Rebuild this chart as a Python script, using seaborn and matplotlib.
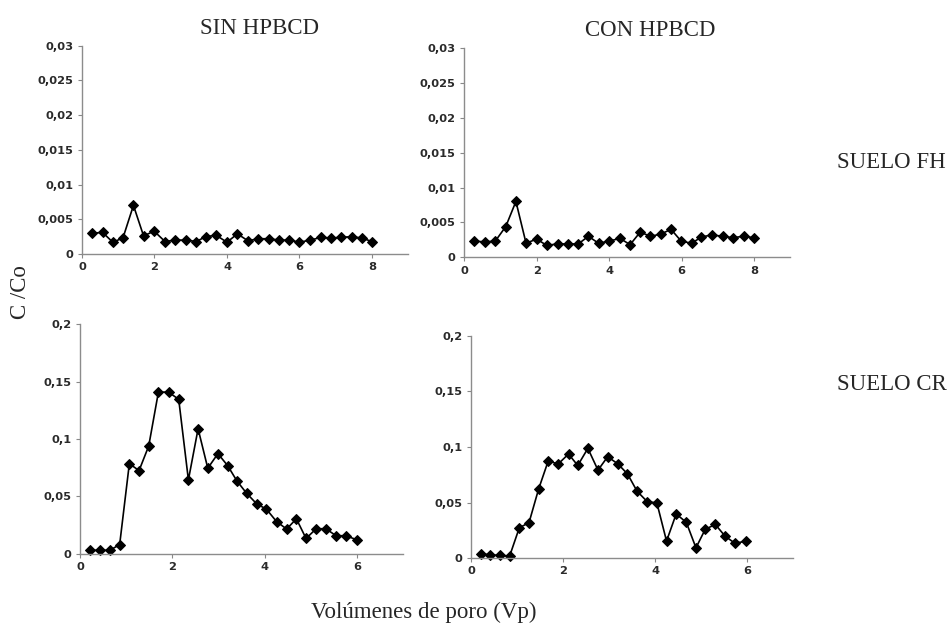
"""
Breakthrough curves C/Co vs pore volumes, FH and CR soils, with and without HPBCD
"""

import matplotlib
matplotlib.use("Agg")
import matplotlib.pyplot as plt
import seaborn as sns
import pandas as pd
from matplotlib.ticker import FuncFormatter

sns.set_theme(style="ticks")

# SUELO FH, SIN HPBCD
x_fh_sin = [0.27, 0.57, 0.85, 1.13, 1.42, 1.70, 1.99, 2.29, 2.58, 2.87, 3.15, 3.42, 3.70, 4.00,
            4.29, 4.58, 4.87, 5.15, 5.44, 5.72, 6.00, 6.30, 6.60, 6.87, 7.16, 7.44, 7.72, 8.00]
y_fh_sin = [0.0030, 0.0031, 0.0017, 0.0023, 0.0070, 0.0026, 0.0033, 0.0018, 0.0020, 0.0020,
            0.0018, 0.0025, 0.0027, 0.0017, 0.0029, 0.0019, 0.0022, 0.0022, 0.0020, 0.0020,
            0.0017, 0.0020, 0.0024, 0.0023, 0.0024, 0.0025, 0.0023, 0.0018]

# SUELO FH, CON HPBCD
x_fh_con = [0.28, 0.57, 0.86, 1.15, 1.43, 1.71, 2.00, 2.28, 2.58, 2.86, 3.15, 3.43, 3.71, 4.00,
            4.30, 4.58, 4.86, 5.14, 5.42, 5.71, 5.99, 6.28, 6.55, 6.84, 7.13, 7.42, 7.71, 8.00]
y_fh_con = [0.0023, 0.0022, 0.0023, 0.0044, 0.0080, 0.0020, 0.0026, 0.0017, 0.0019, 0.0019,
            0.0019, 0.0030, 0.0020, 0.0023, 0.0027, 0.0018, 0.0036, 0.0030, 0.0033, 0.0040,
            0.0023, 0.0020, 0.0029, 0.0032, 0.0030, 0.0028, 0.0030, 0.0028]

# SUELO CR, SIN HPBCD
x_cr_sin = [0.22, 0.43, 0.65, 0.86, 1.07, 1.28, 1.49, 1.70, 1.92, 2.14, 2.35, 2.56, 2.77, 2.99,
            3.20, 3.40, 3.61, 3.83, 4.04, 4.26, 4.48, 4.69, 4.90, 5.12, 5.33, 5.55, 5.76, 6.00]
y_cr_sin = [0.003, 0.003, 0.003, 0.008, 0.0786, 0.0725, 0.094, 0.141, 0.141, 0.1347,
            0.0644, 0.109, 0.0746, 0.0873, 0.0769, 0.0636, 0.0528, 0.0435, 0.0389, 0.0281,
            0.0215, 0.0305, 0.0133, 0.0218, 0.0218, 0.0157, 0.0157, 0.0122]

# SUELO CR, CON HPBCD
x_cr_con = [0.21, 0.42, 0.64, 0.84, 1.05, 1.26, 1.47, 1.68, 1.89, 2.12, 2.32, 2.54, 2.76, 2.97,
            3.19, 3.40, 3.61, 3.83, 4.04, 4.25, 4.46, 4.68, 4.89, 5.09, 5.31, 5.52, 5.73, 5.98]
y_cr_con = [0.004, 0.003, 0.0024, 0.002, 0.0274, 0.0319, 0.0623, 0.0877, 0.0846, 0.0937,
            0.0834, 0.0988, 0.0792, 0.0913, 0.0849, 0.0759, 0.0602, 0.0509, 0.0497, 0.0154,
            0.0398, 0.0322, 0.0093, 0.0259, 0.0304, 0.0199, 0.0136, 0.0151]

col_titles = ["SIN HPBCD", "CON HPBCD"]
row_titles = ["SUELO FH", "SUELO CR"]

SERIF = ["Liberation Serif", "DejaVu Serif"]
TITLE_SIZE = 16.5
TICK_FONT = {"family": "DejaVu Sans", "weight": "bold", "size": 8.2}


def comma_fmt(v, _pos):
    if abs(v) < 1e-12:
        return "0"
    return f"{v:g}".replace(".", ",")


def style_axis(ax, xlim, xticks, ylim, yticks):
    ax.set_xlim(*xlim)
    ax.set_ylim(*ylim)
    ax.set_xticks(xticks)
    ax.set_yticks(yticks)
    ax.xaxis.set_major_formatter(FuncFormatter(comma_fmt))
    ax.yaxis.set_major_formatter(FuncFormatter(comma_fmt))
    for lab in ax.get_xticklabels() + ax.get_yticklabels():
        lab.set_fontproperties(TICK_FONT)
        lab.set_color("#2a2a2a")
    ax.tick_params(axis="both", length=3, width=0.8, color="#888888", pad=3)
    for side in ["top", "right"]:
        ax.spines[side].set_visible(False)
    for side in ["left", "bottom"]:
        ax.spines[side].set_color("#8c8c8c")
        ax.spines[side].set_linewidth(1.0)
    ax.set_xlabel("")
    ax.set_ylabel("")
    ax.set_facecolor("white")


fig = plt.figure(figsize=(9.51, 6.35), dpi=100)

panels = [
    ([0.0862, 0.600, 0.343, 0.328], x_fh_sin, y_fh_sin, (0, 9), [0, 2, 4, 6, 8], (0, 0.03),
     [0, 0.005, 0.01, 0.015, 0.02, 0.025, 0.03]),
    ([0.488, 0.595, 0.343, 0.329], x_fh_con, y_fh_con, (0, 9), [0, 2, 4, 6, 8], (0, 0.03),
     [0, 0.005, 0.01, 0.015, 0.02, 0.025, 0.03]),
    ([0.0841, 0.128, 0.3396, 0.361], x_cr_sin, y_cr_sin, (0, 7), [0, 2, 4, 6], (0, 0.2),
     [0, 0.05, 0.1, 0.15, 0.2]),
    ([0.4953, 0.121, 0.3386, 0.350], x_cr_con, y_cr_con, (0, 7), [0, 2, 4, 6], (0, 0.2),
     [0, 0.05, 0.1, 0.15, 0.2]),
]

for rect, xs, ys, xlim, xticks, ylim, yticks in panels:
    ax = fig.add_axes(rect)
    df = pd.DataFrame({"Vp": xs, "CCo": ys})
    sns.lineplot(
        data=df, x="Vp", y="CCo", ax=ax,
        color="black", linewidth=1.2,
        marker="D", markersize=4.8, markeredgecolor="black",
        markerfacecolor="black", sort=False, clip_on=False
    )
    style_axis(ax, xlim, xticks, ylim, yticks)

# column and row headers
fig.text(259 / 951, 1 - 28 / 635, col_titles[0], ha="center", va="center",
         family=SERIF, fontsize=TITLE_SIZE)
fig.text(650 / 951, 1 - 31 / 635, col_titles[1], ha="center", va="center",
         family=SERIF, fontsize=TITLE_SIZE)
fig.text(837 / 951, 1 - 163 / 635, row_titles[0], ha="left", va="center",
         family=SERIF, fontsize=TITLE_SIZE)
fig.text(837 / 951, 1 - 385 / 635, row_titles[1], ha="left", va="center",
         family=SERIF, fontsize=TITLE_SIZE)

# shared axis labels
fig.text(21 / 951, 1 - 292 / 635, "C /Co", rotation=90, ha="center", va="center",
         family=SERIF, fontsize=TITLE_SIZE)
fig.text(424 / 951, 1 - 612 / 635, "Volúmenes de poro (Vp)", ha="center", va="center",
         family=SERIF, fontsize=TITLE_SIZE)

fig.savefig("out.png", dpi=100, facecolor="white")
plt.close(fig)
